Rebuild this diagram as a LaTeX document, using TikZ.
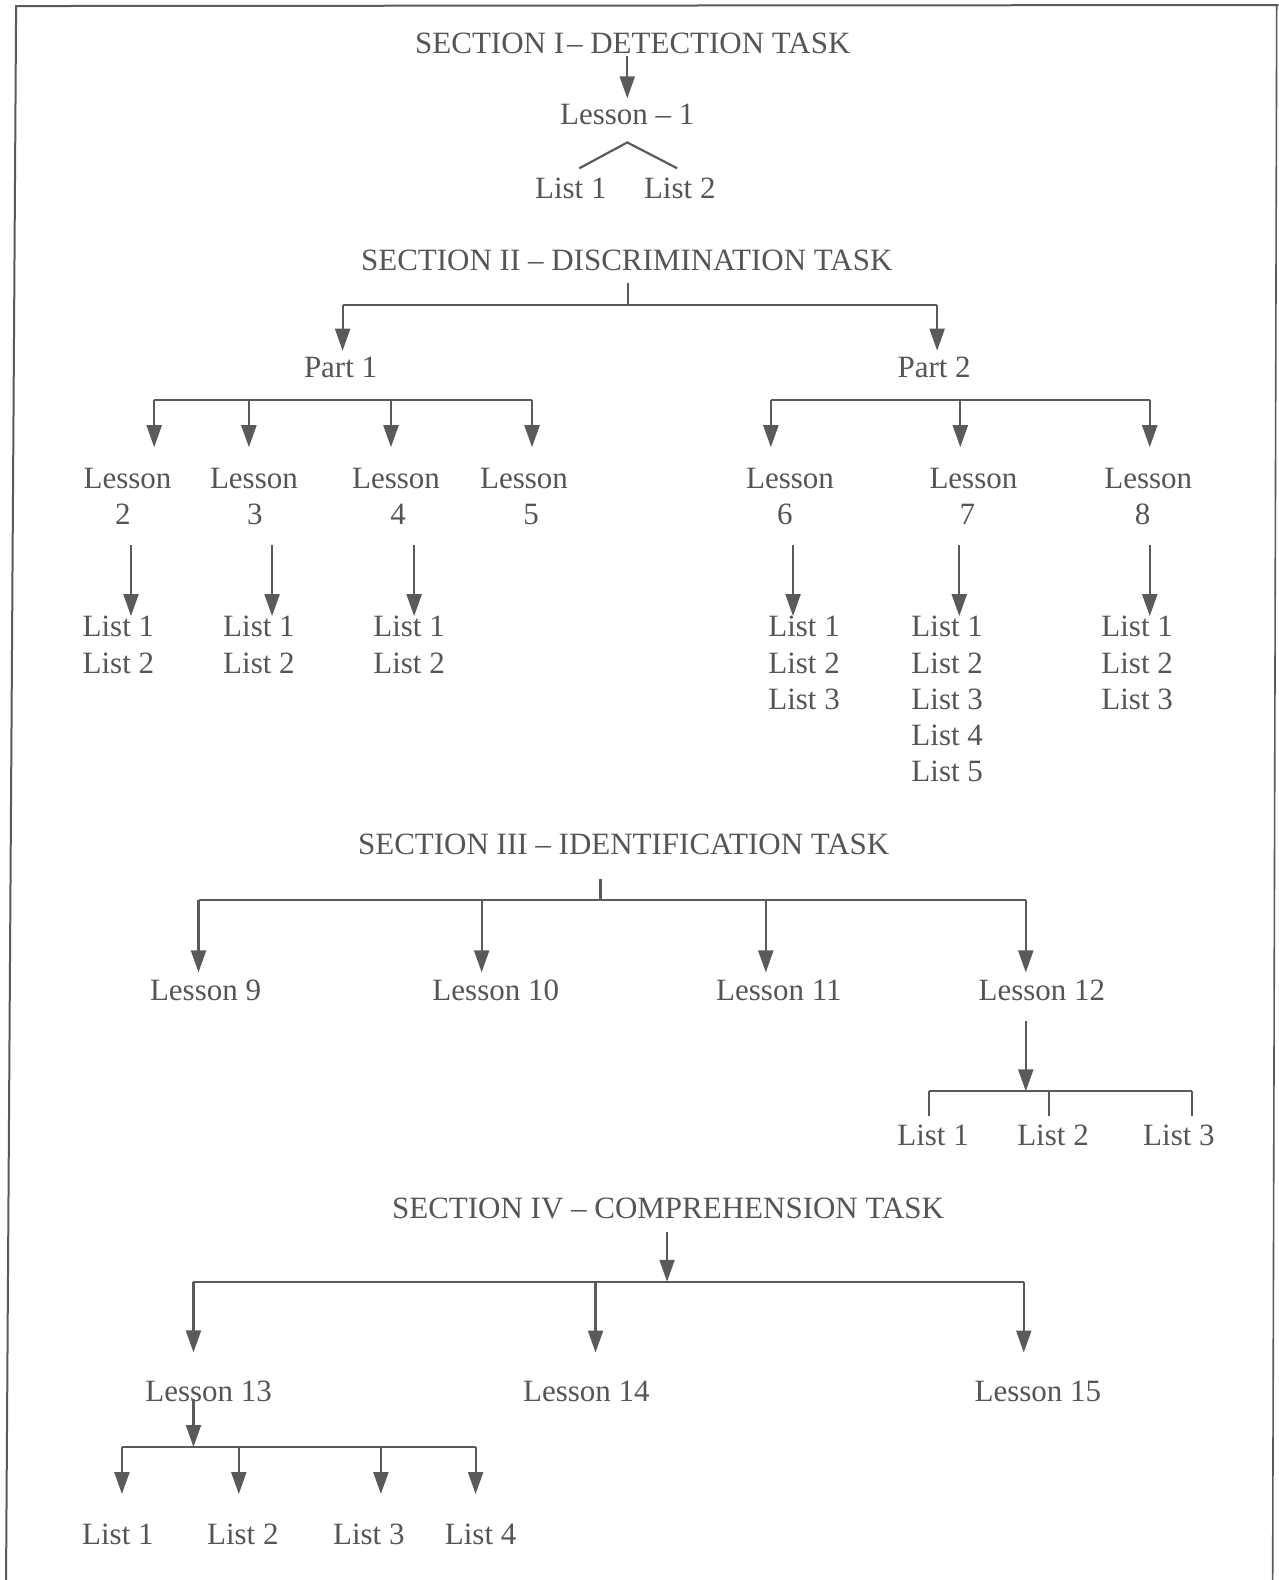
\documentclass[tikz,border=0pt]{standalone}
\usepackage{fontspec}
\setmainfont{Liberation Serif}
\usetikzlibrary{arrows.meta}
\definecolor{ink}{HTML}{5A5A5A}
\definecolor{txtc}{HTML}{555555}
\begin{document}
\begin{tikzpicture}[x=1.00788pt,y=-1.00788pt,
  txt/.style={font=\fontsize{31}{36}\selectfont, text=txtc, inner sep=0pt, anchor=base},
  ln/.style={draw=ink, line width=2.2pt},
  arr/.style={ln, -{Triangle[width=15pt,length=22pt]}}]
\useasboundingbox (0,0) rectangle (1269,1568);
% frame
\draw[ln, line width=2pt] (6,1568) -- (16,6) -- (1269,5);
\draw[ln, line width=1.6pt] (1267,5) -- (1263,1568);

% ---------- Section I
\node[txt] (s1) at (628,52.6) {SECTION I\kern3pt– DETECTION TASK};
\node[txt] (l1) at (622.5,124) {Lesson – 1};
\node[txt] (l1a) at (566.5,196.5) {List 1};
\node[txt] (l1b) at (674.6,196.5) {List 2};
\draw[arr, shorten <=2pt, shorten >=6pt] (s1.south -| l1.north) -- (l1.north);
\draw[ln] ([xshift=8.5pt,yshift=9pt]l1a.north) -- ([yshift=-17pt]l1.south) -- ([xshift=-2.6pt,yshift=9pt]l1b.north);

% ---------- Section II
\node[txt] (s2) at (622,268) {SECTION II – DISCRIMINATION TASK};
\coordinate (s2j) at (623,303);
\coordinate (b2l) at (340,303);
\coordinate (b2r) at (930,303);
\node[txt] (p1) at (338,375) {Part 1};
\node[txt] (p2) at (927,375) {Part 2};
\draw[ln, shorten <=12pt] (s2.south -| s2j) -- (s2j);
\draw[ln] (b2l) -- (b2r);
\draw[arr, shorten >=6.5pt] (b2l) -- (b2l |- p1.north);
\draw[arr, shorten >=6.5pt] (b2r) -- (b2r |- p2.north);

% lessons 2-8
\node[txt] (l2) at (126.5,485) {Lesson};  \node[txt] (l2n) at (122,521) {2};
\node[txt] (l3) at (252,485) {Lesson};    \node[txt] (l3n) at (253,521) {3};
\node[txt] (l4) at (393,485) {Lesson};    \node[txt] (l4n) at (395,521) {4};
\node[txt] (l5) at (520,485) {Lesson};    \node[txt] (l5n) at (527,521) {5};
\node[txt] (l6) at (784,485) {Lesson};    \node[txt] (l6n) at (779,521) {6};
\node[txt] (l7) at (966,485) {Lesson};    \node[txt] (l7n) at (960,521) {7};
\node[txt] (l8) at (1139.5,485) {Lesson}; \node[txt] (l8n) at (1134,521) {8};

% Part 1 bar
\coordinate (b3a) at (153,397);
\coordinate (b3b) at (247,397);
\coordinate (b3c) at (388,397);
\coordinate (b3d) at (528,397);
\draw[ln] (b3a) -- (b3d);
\foreach \c/\l in {b3a/l2, b3b/l3, b3c/l4, b3d/l5}
  \draw[arr, shorten >=21pt] (\c) -- (\c |- \l.north);
% Part 2 bar
\coordinate (b4a) at (765,397);
\coordinate (b4b) at (953,397);
\coordinate (b4c) at (1141,397);
\draw[ln] (b4a) -- (b4c);
\foreach \c/\l in {b4a/l6, b4b/l7, b4c/l8}
  \draw[arr, shorten >=21pt] (\c) -- (\c |- \l.north);

% lists
\node[txt] (l2a) at (117.5,632) {List 1}; \node[txt] (l2b) at (117.5,668) {List 2};
\node[txt] (l3a) at (257,632) {List 1};   \node[txt] (l3b) at (257,668) {List 2};
\node[txt] (l4a) at (406,632) {List 1};   \node[txt] (l4b) at (406,668) {List 2};
\node[txt] (l6a) at (798,632) {List 1};   \node[txt] (l6b) at (798,668) {List 2};
\node[txt] (l6c) at (798,704) {List 3};
\node[txt] (l7a) at (940,632) {List 1};   \node[txt] (l7b) at (940,668) {List 2};
\node[txt] (l7c) at (940,704) {List 3};   \node[txt] (l7d) at (940,740) {List 4};
\node[txt] (l7e) at (940,776) {List 5};
\node[txt] (l8a) at (1128.5,632) {List 1}; \node[txt] (l8b) at (1128.5,668) {List 2};
\node[txt] (l8c) at (1128.5,704) {List 3};

\coordinate (x2) at (130,0);
\coordinate (x3) at (270,0);
\coordinate (x4) at (411,0);
\coordinate (x6) at (787,0);
\coordinate (x7) at (952,0);
\coordinate (x8) at (1141,0);
\foreach \x/\n/\t in {x2/l2n/l2a, x3/l3n/l3a, x4/l4n/l4a, x6/l6n/l6a, x7/l7n/l7a, x8/l8n/l8a}
  \draw[arr, shorten <=20pt] (\n.south -| \x) -- (\x |- \t.north);

% ---------- Section III
\node[txt] (s3) at (619,848) {SECTION III – IDENTIFICATION TASK};
\coordinate (s3j) at (596,893);
\coordinate (b5a) at (197,893);
\coordinate (b5b) at (478,893);
\coordinate (b5c) at (760,893);
\coordinate (b5d) at (1018,893);
\draw[ln, shorten <=24pt] (s3.south -| s3j) -- (s3j);
\draw[ln] (b5a) -- (b5d);
\node[txt] (l9)  at (204,993) {Lesson 9};
\node[txt] (l10) at (492,993) {Lesson 10};
\node[txt] (l11) at (773,993) {Lesson 11};
\node[txt] (l12) at (1034,993) {Lesson 12};
\foreach \c/\l in {b5a/l9, b5b/l10, b5c/l11, b5d/l12}
  \draw[arr, shorten >=7.5pt] (\c) -- (\c |- \l.north);

\coordinate (b6j) at (1018,1083);
\coordinate (b6a) at (922,1083);
\coordinate (b6b) at (1041,1083);
\coordinate (b6c) at (1183,1083);
\draw[arr, shorten <=20pt] (l12.south -| b6j) -- (b6j);
\draw[ln] (b6a) -- (b6c);
\node[txt] (l12a) at (926,1137) {List 1};
\node[txt] (l12b) at (1045,1137) {List 2};
\node[txt] (l12c) at (1170,1137) {List 3};
\foreach \c/\l in {b6a/l12a, b6b/l12b, b6c/l12c}
  \draw[ln, shorten >=9pt] (\c) -- (\c |- \l.north);

% ---------- Section IV
\node[txt] (s4) at (663,1209) {SECTION IV – COMPREHENSION TASK};
\coordinate (s4j) at (662,1272);
\coordinate (b7a) at (192,1272);
\coordinate (b7b) at (591,1272);
\coordinate (b7c) at (1016,1272);
\draw[arr, shorten <=13pt] (s4.south -| s4j) -- (s4j);
\draw[ln] (b7a) -- (b7c);
\node[txt] (l13) at (207,1391) {Lesson 13};
\node[txt] (l14) at (582,1391) {Lesson 14};
\node[txt] (l15) at (1030,1391) {Lesson 15};
\foreach \c/\l in {b7a/l13, b7b/l14, b7c/l15}
  \draw[arr, shorten >=28.5pt] (\c) -- (\c |- \l.north);

\coordinate (b8j) at (192,1436);
\coordinate (b8a) at (121,1436);
\coordinate (b8b) at (237,1436);
\coordinate (b8c) at (378,1436);
\coordinate (b8d) at (472,1436);
\draw[arr, shorten <=-3pt] (l13.south -| b8j) -- (b8j);
\draw[ln] (b8a) -- (b8d);
\node[txt] (l13a) at (117,1533) {List 1};
\node[txt] (l13b) at (241,1533) {List 2};
\node[txt] (l13c) at (366,1533) {List 3};
\node[txt] (l13d) at (477,1533) {List 4};
\foreach \c/\l in {b8a/l13a, b8b/l13b, b8c/l13c, b8d/l13d}
  \draw[arr, shorten >=30pt] (\c) -- (\c |- \l.north);
\end{tikzpicture}
\end{document}
